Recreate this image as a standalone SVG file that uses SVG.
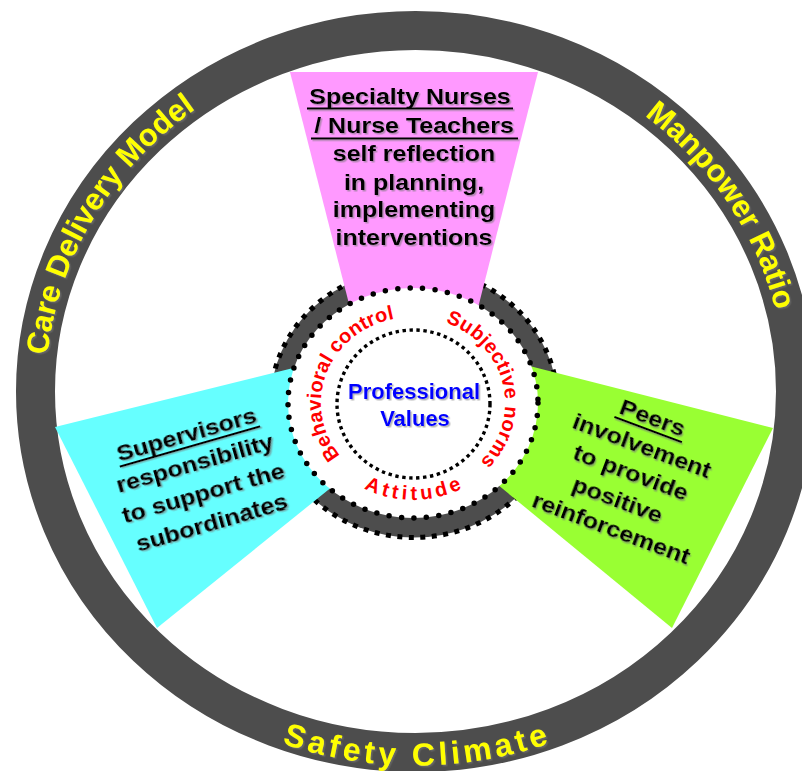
<svg xmlns="http://www.w3.org/2000/svg" xmlns:xlink="http://www.w3.org/1999/xlink" width="802" height="771" viewBox="0 0 802 771">
  <defs>
    <style>
      .t { font-family: "Liberation Sans", Arial, sans-serif; font-weight: bold; }
      .body { font-size: 25px; fill: #000; text-anchor: middle; }
      .ring-label { font-size: 31px; fill: #ffff00; }
      .factor { font-size: 20px; fill: #ff0000; }
      .core { font-size: 22px; fill: #0000ff; text-anchor: middle; }
      .ul { stroke: #000; stroke-width: 2; }
    </style>
    <filter id="shadow" x="-10%" y="-20%" width="125%" height="150%">
      <feDropShadow dx="1.5" dy="1.5" stdDeviation="0.6" flood-color="#777" flood-opacity="0.55"/>
    </filter>
    <!-- baselines for the curved labels -->
    <path id="arcLeft" d="M 98.3 572.3 A 370 351 0 0 1 409 40.55"/>
    <path id="arcRight" d="M 404.5 40.65 A 370 351 0 0 1 741.3 557.9"/>
    <path id="arcBottom" d="M 73.4 578.5 A 395 374 0 0 0 757.6 578.5"/>
    <path id="arcBehav" d="M 367 477.5 A 92 86 0 0 1 429 318.3"/>
    <path id="arcSubj" d="M 408.2 317.1 A 92 86 0 0 1 448.9 482.2"/>
    <path id="arcAtt" d="M 315.3 436.2 A 104 97 0 0 0 510.7 436.2"/>
  </defs>

  <rect width="802" height="771" fill="#ffffff"/>

  <!-- outer wheel -->
  <g id="wheel">
    <ellipse cx="415.5" cy="391.5" rx="380" ry="361" fill="none" stroke="#4d4d4d" stroke-width="39"/>
  </g>

  <!-- hub ring with square-dot rim -->
  <g id="hub-ring">
    <ellipse cx="414" cy="403" rx="143.5" ry="134.5" fill="#4d4d4d" stroke="#000" stroke-width="5" stroke-dasharray="5 6.5"/>
  </g>

  <!-- three spokes -->
  <g id="spoke-specialty">
    <polygon points="290,72 538,72 452,410 376,410" fill="#ff99ff"/>
  </g>
  <g id="spoke-supervisors">
    <polygon points="55,427 400,341.5 400,432 157,628" fill="#66ffff"/>
  </g>
  <g id="spoke-peers">
    <polygon points="425,339.5 773,428 672,628 425,425" fill="#99ff33"/>
  </g>

  <!-- hub centre -->
  <g id="hub">
    <ellipse cx="413" cy="403" rx="125" ry="115" fill="#ffffff" stroke="#000" stroke-width="5.5" stroke-dasharray="0 12.5" stroke-linecap="round"/>
    <ellipse cx="413.5" cy="404" rx="76.5" ry="74" fill="none" stroke="#000" stroke-width="3.4" stroke-dasharray="3.4 3.6"/>
    <g filter="url(#shadow)">
      <text class="t core" x="414" y="399">Professional</text>
      <text class="t core" x="415" y="426">Values</text>
    </g>
    <text class="t factor"><textPath xlink:href="#arcBehav" startOffset="50%" text-anchor="middle" textLength="178" lengthAdjust="spacing">Behavioral control</textPath></text>
    <text class="t factor"><textPath xlink:href="#arcSubj" startOffset="50%" text-anchor="middle" textLength="172" lengthAdjust="spacing">Subjective norms</textPath></text>
    <text class="t factor"><textPath xlink:href="#arcAtt" startOffset="50%" text-anchor="middle" textLength="102" lengthAdjust="spacing">Attitude</textPath></text>
  </g>

  <!-- wheel labels -->
  <g id="wheel-labels" filter="url(#shadow)">
    <text class="t ring-label"><textPath xlink:href="#arcLeft" startOffset="50%" text-anchor="middle">Care Delivery Model</textPath></text>
    <text class="t ring-label"><textPath xlink:href="#arcRight" startOffset="50%" text-anchor="middle">Manpower Ratio</textPath></text>
    <text class="t ring-label" style="font-size:32px"><textPath xlink:href="#arcBottom" startOffset="50%" text-anchor="middle" textLength="272" lengthAdjust="spacing">Safety Climate</textPath></text>
  </g>

  <!-- spoke texts -->
  <g id="text-specialty" filter="url(#shadow)">
    <text class="t body" transform="translate(410,103.5) scale(1,0.87)">Specialty Nurses</text>
    <text class="t body" transform="translate(414,132.5) scale(1,0.87)">/ Nurse Teachers</text>
    <text class="t body" transform="translate(414,161) scale(1,0.87)">self reflection</text>
    <text class="t body" transform="translate(414,189.5) scale(1,0.87)">in planning,</text>
    <text class="t body" transform="translate(414,217) scale(1,0.87)">implementing</text>
    <text class="t body" transform="translate(414,245) scale(1,0.87)">interventions</text>
    <line class="ul" x1="307" y1="108.5" x2="513" y2="108.5"/>
    <line class="ul" x1="311" y1="138.5" x2="518" y2="138.5"/>
  </g>

  <g id="text-supervisors" filter="url(#shadow)" transform="translate(188.6,441.7) rotate(-16)">
    <text class="t body" transform="scale(1,0.87)">Supervisors</text>
    <text class="t body" transform="translate(0,30.5) scale(1,0.87)">responsibility</text>
    <text class="t body" transform="translate(0,61) scale(1,0.87)">to support the</text>
    <text class="t body" transform="translate(0,91.5) scale(1,0.87)">subordinates</text>
    <line class="ul" x1="-73" y1="5" x2="73" y2="5"/>
  </g>

  <g id="text-peers" filter="url(#shadow)" transform="translate(649.9,424.9) rotate(20.5)">
    <text class="t body" transform="scale(1,0.87)">Peers</text>
    <text class="t body" transform="translate(0,29.6) scale(1,0.87)">involvement</text>
    <text class="t body" transform="translate(-1,59.2) scale(1,0.87)">to provide</text>
    <text class="t body" transform="translate(-4,88.8) scale(1,0.87)">positive</text>
    <text class="t body" transform="translate(0,118.4) scale(1,0.87)">reinforcement</text>
    <line class="ul" x1="-36" y1="5" x2="36" y2="5"/>
  </g>
</svg>
